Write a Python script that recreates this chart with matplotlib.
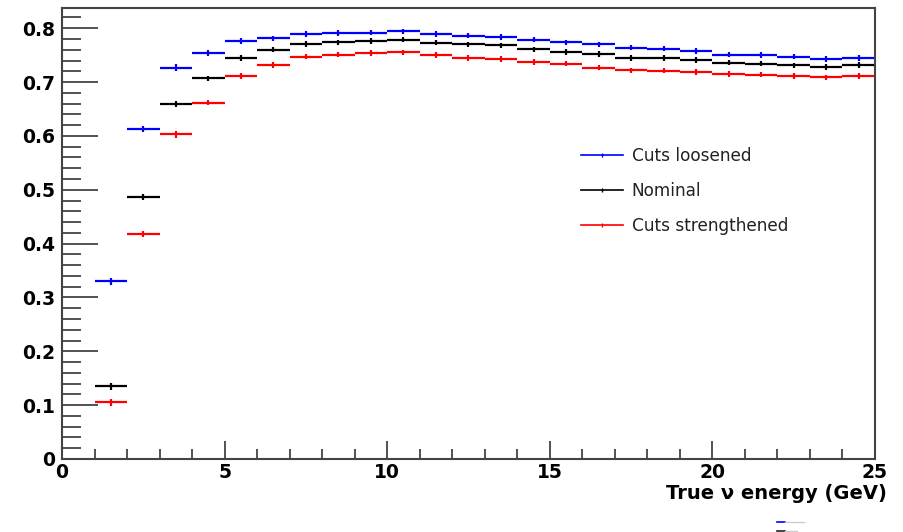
import matplotlib
matplotlib.use("Agg")
import matplotlib.pyplot as plt
from matplotlib.lines import Line2D
from matplotlib.ticker import MultipleLocator
import numpy as np

plt.rcParams['font.family'] = ['DejaVu Sans']

# Bin edges (GeV) and per-bin efficiencies for the three selections
bin_edges = list(range(1, 26))
loosened = [0.330, 0.613, 0.727, 0.754, 0.776, 0.781, 0.789, 0.791, 0.792, 0.794,
            0.789, 0.786, 0.784, 0.779, 0.774, 0.770, 0.764, 0.762, 0.758, 0.751,
            0.750, 0.747, 0.743, 0.745]
nominal = [0.135, 0.487, 0.659, 0.707, 0.745, 0.760, 0.771, 0.774, 0.776, 0.779,
           0.773, 0.770, 0.768, 0.761, 0.756, 0.752, 0.745, 0.745, 0.741, 0.736,
           0.734, 0.731, 0.728, 0.732]
strengthened = [0.105, 0.418, 0.603, 0.662, 0.711, 0.732, 0.747, 0.751, 0.754, 0.755,
                0.750, 0.745, 0.743, 0.737, 0.734, 0.727, 0.722, 0.721, 0.719, 0.715,
                0.714, 0.711, 0.709, 0.711]
stat_err = [0.006, 0.006, 0.006, 0.005, 0.005, 0.005, 0.005, 0.005, 0.005, 0.005,
            0.005, 0.005, 0.005, 0.005, 0.005, 0.005, 0.005, 0.005, 0.005, 0.005,
            0.005, 0.005, 0.005, 0.005]

series = [("Cuts loosened", loosened, "#0000ff"),
          ("Nominal", nominal, "#000000"),
          ("Cuts strengthened", strengthened, "#ff0000")]

W, H = 904, 532
fig = plt.figure(figsize=(W / 100, H / 100), dpi=100)
ax = fig.add_axes([62 / W, 1 - 459 / H, (875 - 62) / W, (459 - 8.3) / H])

edges = np.array(bin_edges, dtype=float)
centers = 0.5 * (edges[:-1] + edges[1:])
half = 0.5 * (edges[1:] - edges[:-1])

handles = []
for label, vals, color in series:
    ax.errorbar(centers, vals, xerr=half, yerr=stat_err, fmt='none',
                ecolor=color, elinewidth=1.6, capsize=0)
    handles.append(Line2D([], [], color=color, lw=1.2, marker='|',
                          markersize=3, markeredgewidth=1.0, label=label))

ax.set_xlim(0, 25)
ax.set_ylim(0, 0.837)

ax.xaxis.set_minor_locator(MultipleLocator(1))
ax.yaxis.set_minor_locator(MultipleLocator(0.02))

ax.set_xticks(range(0, 26, 5))
ax.set_xticklabels([str(v) for v in range(0, 26, 5)])
yt = [round(0.1 * i, 1) for i in range(9)]
ax.set_yticks(yt)
ax.set_yticklabels(["0"] + [f"{v:.1f}" for v in yt[1:]])

for lab in ax.get_xticklabels() + ax.get_yticklabels():
    lab.set_fontweight('bold')
    lab.set_fontsize(13.5)

ax.tick_params(axis='x', which='major', direction='in', length=13, width=1.2,
               color='#333333', pad=3, top=False)
ax.tick_params(axis='x', which='minor', direction='in', length=7, width=1.2,
               color='#333333', top=False)
ax.tick_params(axis='y', which='major', direction='in', length=26, width=1.2,
               color='#333333', pad=5, right=False)
ax.tick_params(axis='y', which='minor', direction='in', length=14, width=1.2,
               color='#333333', right=False)

for sp in ax.spines.values():
    sp.set_color('#444444')
    sp.set_linewidth(1.5)

fig.text(887 / W, 1 - 499 / H, "True \u03bd energy (GeV)", ha='right',
         va='baseline', fontsize=14, fontweight='bold')

leg = ax.legend(handles=handles, loc='upper left', frameon=False,
                bbox_to_anchor=(574 / W, 1 - 140 / H),
                bbox_transform=fig.transFigure, fontsize=12.2,
                handlelength=2.5, handletextpad=0.5, labelspacing=1.0,
                borderaxespad=0)
for txt in leg.get_texts():
    txt.set_color('#222222')

# small key glyphs in the lower right corner
for y, col, x_end in [(522.3, '#0000ff', 804), (530.5, '#222222', 797)]:
    fig.add_artist(Line2D([777 / W, 785 / W], [1 - y / H, 1 - y / H],
                          color=col, lw=1.2, transform=fig.transFigure))
    fig.add_artist(Line2D([785 / W, x_end / W], [1 - y / H, 1 - y / H],
                          color='#cccccc', lw=1.0, transform=fig.transFigure))

fig.savefig("out.png", dpi=100, facecolor='white')
